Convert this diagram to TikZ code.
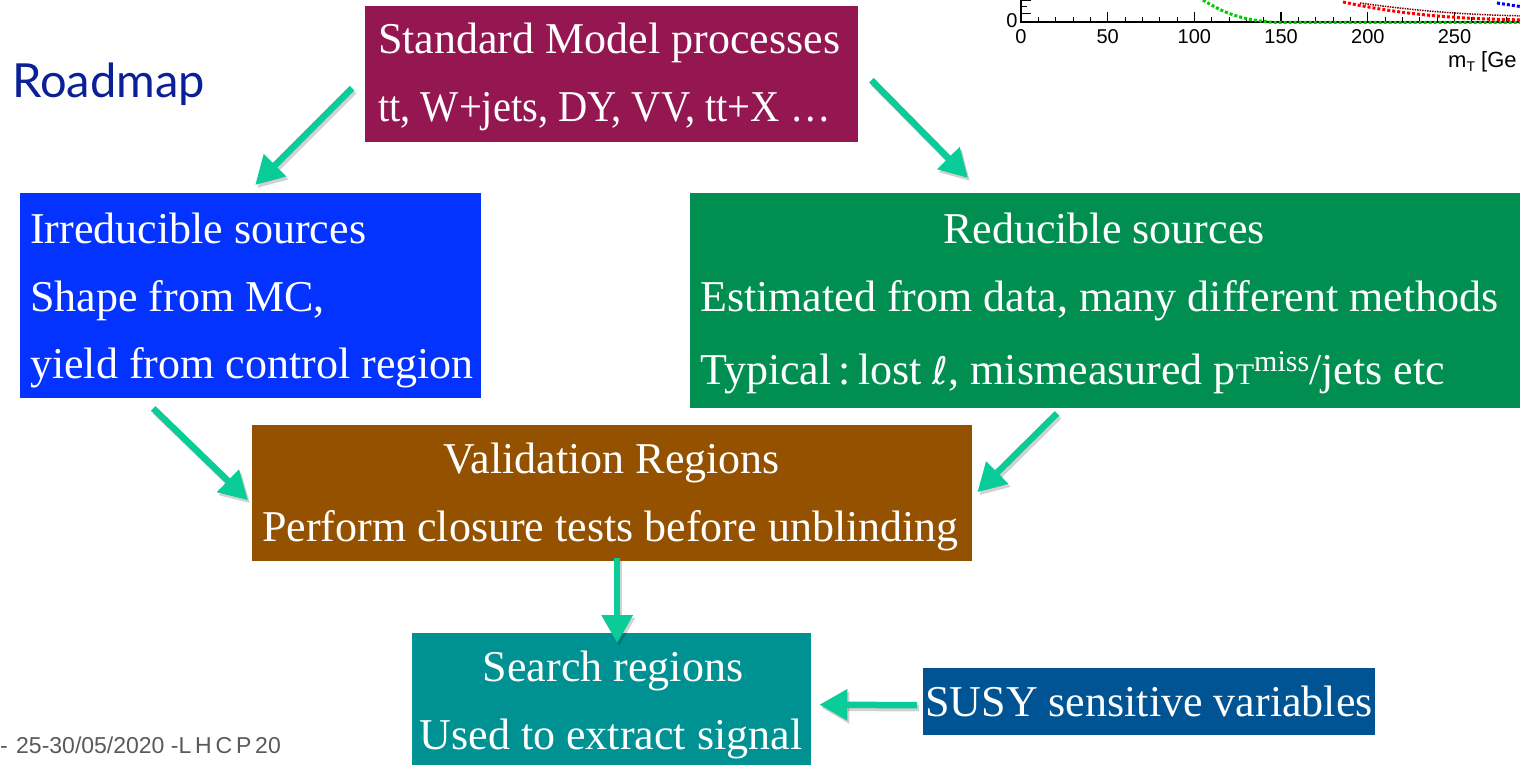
\documentclass[tikz,border=0pt]{standalone}
\usepackage{fontspec}
\setmainfont{Liberation Serif}
\newfontfamily\roadfont{Lato}
\newfontfamily\plotfont{Liberation Sans}
\newfontfamily\ellfont{DejaVu Sans}
\usetikzlibrary{calc,arrows.meta}
\definecolor{smcol}{HTML}{941751}
\definecolor{irrcol}{HTML}{0433FF}
\definecolor{redcol}{HTML}{008F51}
\definecolor{valcol}{HTML}{945200}
\definecolor{srcol}{HTML}{009193}
\definecolor{susycol}{HTML}{005493}
\definecolor{arrcol}{HTML}{0ACC98}
\definecolor{roadcol}{HTML}{0B1F96}
\definecolor{footcol}{HTML}{5A5A5A}
\begin{document}
\begin{tikzpicture}[x=1pt,y=-1pt,
  box/.style={fill=#1, draw=none, inner sep=0, anchor=north west},
  txt/.style={text=white, inner sep=0, font=\fontsize{44}{50}\selectfont},
  flow/.style={draw=arrcol, line width=6.5pt, -{Triangle[length=28pt,width=30pt]},
    preaction={draw=black, opacity=0.18, line width=6.5pt,
      transform canvas={shift={(2pt,-3pt)}}}},
  tick/.style={line width=1.3pt},
  ticklab/.style={inner sep=0, font=\plotfont\fontsize{20}{20}\selectfont}]
\useasboundingbox (0,0) rectangle (1520,765);
\clip (0,0) rectangle (1520,765);

% ---- corner of the m_T distribution ----
\draw[tick] (1021,0) -- (1021,22) -- (1530,22);
\foreach \k in {0,...,5}
  \draw[tick] ({1021+86.7*\k},22) -- ({1021+86.7*\k},12);
\foreach \k in {1,...,29}
  \draw[line width=1pt] ({1021+17.34*\k},22) -- ({1021+17.34*\k},17);
\draw[line width=1pt] (1021,1) -- (1031,1);
\draw[line width=1pt] (1021,7) -- (1027,7);
\draw[line width=1pt] (1021,14) -- (1031,14);
\node[ticklab, anchor=base] (y0) at (1012,28) {0};
\foreach \v [count=\i from 0] in {0,50,100,150,200,250}
  \node[ticklab, anchor=base] (x\i) at ({1021+86.7*\i},44) {\v};
\node[inner sep=0, anchor=base west, font=\plotfont\fontsize{22}{22}\selectfont] (mt)
  at (1448,68) {m\raisebox{-4pt}{\fontsize{14}{14}\selectfont T} [Ge};
\draw[green!80!black, line width=3pt, dotted]
  (1203,0) .. controls (1222,12) and (1240,20) .. (1275,22.5) -- (1530,22.5);
\draw[red, line width=3pt, dotted]
  (1343,2) .. controls (1390,12) and (1440,19) .. (1530,20);
\draw[red!50!black, line width=1.5pt, densely dotted]
  (1360,3) .. controls (1410,10) and (1460,15) .. (1530,16);
\draw[blue, line width=3pt, dotted] (1497,3) -- (1530,8);

% ---- title and footer ----
\node[inner sep=0, anchor=base west, text=roadcol,
  font=\roadfont\fontsize{47}{47}\selectfont] (title) at (12,98) {Roadmap};
\node[inner sep=0, anchor=base west, text=footcol,
  font=\plotfont\fontsize{23}{23}\selectfont] (dash) at (0,753) {-};
\node[inner sep=0, anchor=base west, text=footcol,
  font=\plotfont\fontsize{23}{23}\selectfont] (foot) at (16,753)
  {25-30/05/2020 -L\,H\,C\,P\,20};

% ---- boxes ----
\node[box=smcol,   minimum width=493, minimum height=136] (sm)   at (365,6)   {};
\node[box=irrcol,  minimum width=461, minimum height=205] (irr)  at (20,193)  {};
\node[box=redcol,  minimum width=830, minimum height=215] (red)  at (690,193) {};
\node[box=valcol,  minimum width=720, minimum height=136] (val)  at (252,425) {};
\node[box=srcol,   minimum width=399, minimum height=135] (sr)   at (412,633) {};
\node[box=susycol, minimum width=452, minimum height=67]  (susy) at (923,668) {};

% ---- texts ----
\node[txt, anchor=base west] (sm1) at (378,54)  {Standard Model processes};
\node[txt, anchor=base west] (sm2) at (378,122)
  {\scalebox{0.92}[1]{tt, W+jets, DY, VV, tt+X …}};
\node[txt, anchor=base west] (irr1) at (30,243) {Irreducible sources};
\node[txt, anchor=base west] (irr2) at (30,311) {Shape from MC,};
\node[txt, anchor=base west] (irr3) at (30,378) {yield from control region};
\node[txt, anchor=base] (red1) at (1104,243) {Reducible sources};
\node[txt, anchor=base west] (red2) at (700,311) {Estimated from data, many different methods};
\node[txt, anchor=base west] (red3) at (700,384)
  {Typical\,:\,lost {\ellfont\fontsize{38}{38}\selectfont ℓ}, mismeasured p{\fontsize{30}{30}\selectfont T}\raisebox{13pt}{\fontsize{30}{30}\selectfont miss}/jets etc};
\node[txt, anchor=base] (val1) at (612,473) {Validation Regions};
\node[txt, anchor=base west] (val2) at (262,541) {Perform closure tests before unblinding};
\node[txt, anchor=base] (sr1) at (613,681) {Search regions};
\node[txt, anchor=base] (sr2) at (611,749) {Used to extract signal};
\node[txt, anchor=base] (susy1) at (1149,716) {SUSY sensitive variables};

% ---- connectors ----
\draw[flow] ($(sm.west)+(-13,14)$) -- ($(irr.north)+(4.5,-8)$);
\draw[flow] ($(sm.east)+(13,6)$) -- ($(red.north west)+(278,-15)$);
\draw[flow] ($(irr.south)+(-97.5,10)$) -- ($(val.west)+(-4,7)$);
\draw[flow] ($(red.south west)+(367,5)$) -- ($(val.east)+(5,-1)$);
\draw[flow] ($(val.south)+(5,-3)$) -- ($(sr.north)+(5.5,10)$);
\draw[flow] ($(susy.west)+(-6,3.5)$) -- ($(sr.east)+(8,4)$);
\end{tikzpicture}
\end{document}
